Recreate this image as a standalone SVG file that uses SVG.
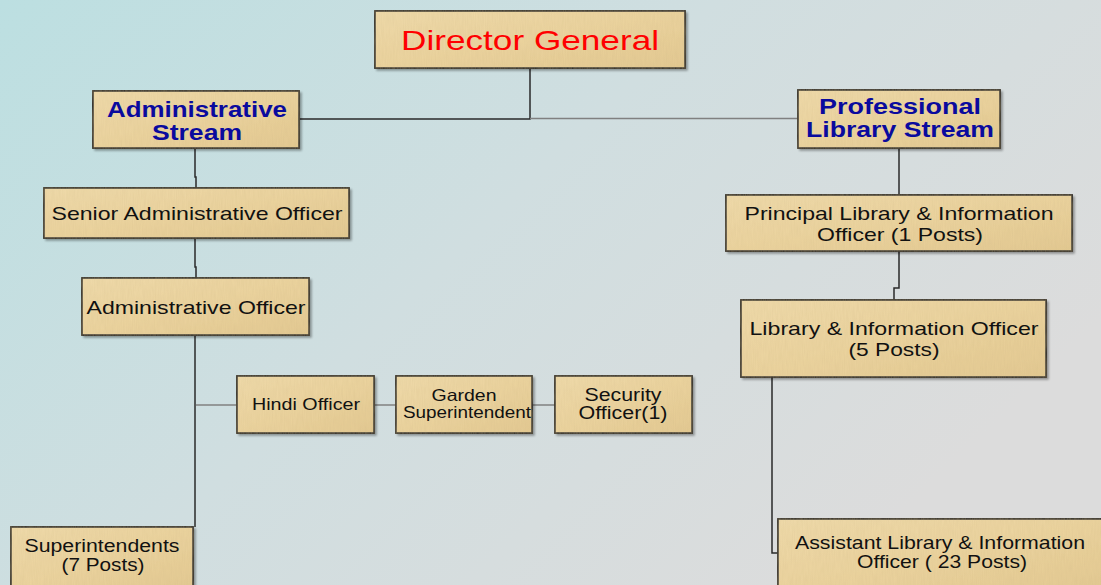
<svg xmlns="http://www.w3.org/2000/svg" width="1101" height="585" viewBox="0 0 1101 585">
  <defs>
    <linearGradient id="bg" x1="0" y1="0" x2="1" y2="0.55">
      <stop offset="0" stop-color="#bcdfe1"/>
      <stop offset="0.5" stop-color="#d0dee0"/>
      <stop offset="1" stop-color="#dcdcdc"/>
    </linearGradient>
    <linearGradient id="paper" x1="0" y1="0" x2="1" y2="1">
      <stop offset="0" stop-color="#f0dbab"/>
      <stop offset="0.5" stop-color="#ecd49f"/>
      <stop offset="1" stop-color="#e4ca92"/>
    </linearGradient>
    <!-- parchment grain plus a soft drop shadow -->
    <filter id="paperfx" x="-5%" y="-10%" width="115%" height="130%">
      <feTurbulence type="fractalNoise" baseFrequency="0.9 0.08" numOctaves="2" seed="3" result="noise"/>
      <feColorMatrix in="noise" type="matrix" values="0 0 0 0 0.55  0 0 0 0 0.42  0 0 0 0 0.2  0 0 0 0.22 0" result="tint"/>
      <feComposite in="tint" in2="SourceGraphic" operator="in" result="grain"/>
      <feDropShadow in="SourceAlpha" dx="2" dy="2" stdDeviation="1.2" flood-color="#000" flood-opacity="0.35" result="shade"/>
      <feMerge>
        <feMergeNode in="shade"/>
        <feMergeNode in="SourceGraphic"/>
        <feMergeNode in="grain"/>
      </feMerge>
    </filter>
    <style>
      .box { fill: url(#paper); stroke: #2b2b2b; stroke-width: 1.5; filter: url(#paperfx); }
      .lbl { font-family: "Liberation Sans", Arial, sans-serif; fill: #111; text-anchor: middle; }
      .head { font-family: "Liberation Sans", Arial, sans-serif; font-weight: bold; fill: #0a0a9e; text-anchor: middle; font-size: 22.5px; }
      .dark { stroke: #2a2a2a; stroke-width: 1.5; fill: none; }
      .grey { stroke: #808080; stroke-width: 1.5; fill: none; }
    </style>
  </defs>

  <rect width="1101" height="585" fill="url(#bg)"/>

  <g id="connectors">
    <path class="dark" d="M530 68 V119 H299"/>
    <path class="grey" d="M530 118.5 H798"/>
    <path class="dark" d="M195 148 V177 H196 V188"/>
    <path class="dark" d="M195 238 V267 H196 V278"/>
    <path class="dark" d="M195 335 V527"/>
    <path class="grey" d="M196 405 H237"/>
    <path class="grey" d="M374 405 H396"/>
    <path class="grey" d="M532 405 H555"/>
    <path class="dark" d="M899 148 V195"/>
    <path class="dark" d="M899 251 V288 H894 V300"/>
    <path class="dark" d="M772 377 V553 H778"/>
  </g>

  <g id="director-general">
    <rect class="box" x="375" y="11" width="310" height="57"/>
    <text x="530" y="50" font-family="Liberation Sans, Arial, sans-serif" font-size="28" fill="#ff0000" text-anchor="middle" textLength="258" lengthAdjust="spacingAndGlyphs">Director General</text>
  </g>

  <g id="administrative-stream">
    <rect class="box" x="93" y="91" width="206" height="57"/>
    <text class="head" x="197" y="117" textLength="180" lengthAdjust="spacingAndGlyphs">Administrative</text>
    <text class="head" x="197" y="140" textLength="90" lengthAdjust="spacingAndGlyphs">Stream</text>
  </g>

  <g id="professional-library-stream">
    <rect class="box" x="798" y="90" width="202" height="58"/>
    <text class="head" x="900" y="114" textLength="162" lengthAdjust="spacingAndGlyphs">Professional</text>
    <text class="head" x="900" y="137" textLength="188" lengthAdjust="spacingAndGlyphs">Library Stream</text>
  </g>

  <g id="senior-administrative-officer">
    <rect class="box" x="44" y="188" width="305" height="50"/>
    <text class="lbl" x="197" y="220" font-size="19" textLength="291" lengthAdjust="spacingAndGlyphs">Senior Administrative Officer</text>
  </g>

  <g id="administrative-officer">
    <rect class="box" x="82" y="278" width="227" height="57"/>
    <text class="lbl" x="196" y="314" font-size="19" textLength="219" lengthAdjust="spacingAndGlyphs">Administrative Officer</text>
  </g>

  <g id="hindi-officer">
    <rect class="box" x="237" y="376" width="137" height="57"/>
    <text class="lbl" x="306" y="410" font-size="16.5" textLength="108" lengthAdjust="spacingAndGlyphs">Hindi Officer</text>
  </g>

  <g id="garden-superintendent">
    <rect class="box" x="396" y="376" width="136" height="57"/>
    <text class="lbl" x="464" y="401" font-size="16.5" textLength="65" lengthAdjust="spacingAndGlyphs">Garden</text>
    <text class="lbl" x="467" y="418" font-size="16.5" textLength="128" lengthAdjust="spacingAndGlyphs">Superintendent</text>
  </g>

  <g id="security-officer">
    <rect class="box" x="555" y="376" width="137" height="57"/>
    <text class="lbl" x="623" y="401" font-size="17.5" textLength="77" lengthAdjust="spacingAndGlyphs">Security</text>
    <text class="lbl" x="623" y="419" font-size="17.5" textLength="89" lengthAdjust="spacingAndGlyphs">Officer(1)</text>
  </g>

  <g id="superintendents">
    <rect class="box" x="11" y="527" width="182" height="64"/>
    <text class="lbl" x="102" y="552" font-size="17.5" textLength="155" lengthAdjust="spacingAndGlyphs">Superintendents</text>
    <text class="lbl" x="103" y="571" font-size="17.5" textLength="83" lengthAdjust="spacingAndGlyphs">(7 Posts)</text>
  </g>

  <g id="principal-library-information-officer">
    <rect class="box" x="726" y="195" width="346" height="56"/>
    <text class="lbl" x="899" y="220" font-size="18.5" textLength="309" lengthAdjust="spacingAndGlyphs">Principal Library &amp; Information</text>
    <text class="lbl" x="900" y="241" font-size="18.5" textLength="166" lengthAdjust="spacingAndGlyphs">Officer (1 Posts)</text>
  </g>

  <g id="library-information-officer">
    <rect class="box" x="741" y="300" width="305" height="77"/>
    <text class="lbl" x="894" y="335" font-size="18.5" textLength="289" lengthAdjust="spacingAndGlyphs">Library &amp; Information Officer</text>
    <text class="lbl" x="894" y="356" font-size="18.5" textLength="91" lengthAdjust="spacingAndGlyphs">(5 Posts)</text>
  </g>

  <g id="assistant-library-information-officer">
    <rect class="box" x="778" y="519" width="330" height="72"/>
    <text class="lbl" x="940" y="549" font-size="18.5" textLength="290" lengthAdjust="spacingAndGlyphs">Assistant Library &amp; Information</text>
    <text class="lbl" x="942" y="568" font-size="18.5" textLength="170" lengthAdjust="spacingAndGlyphs">Officer ( 23 Posts)</text>
  </g>
</svg>
